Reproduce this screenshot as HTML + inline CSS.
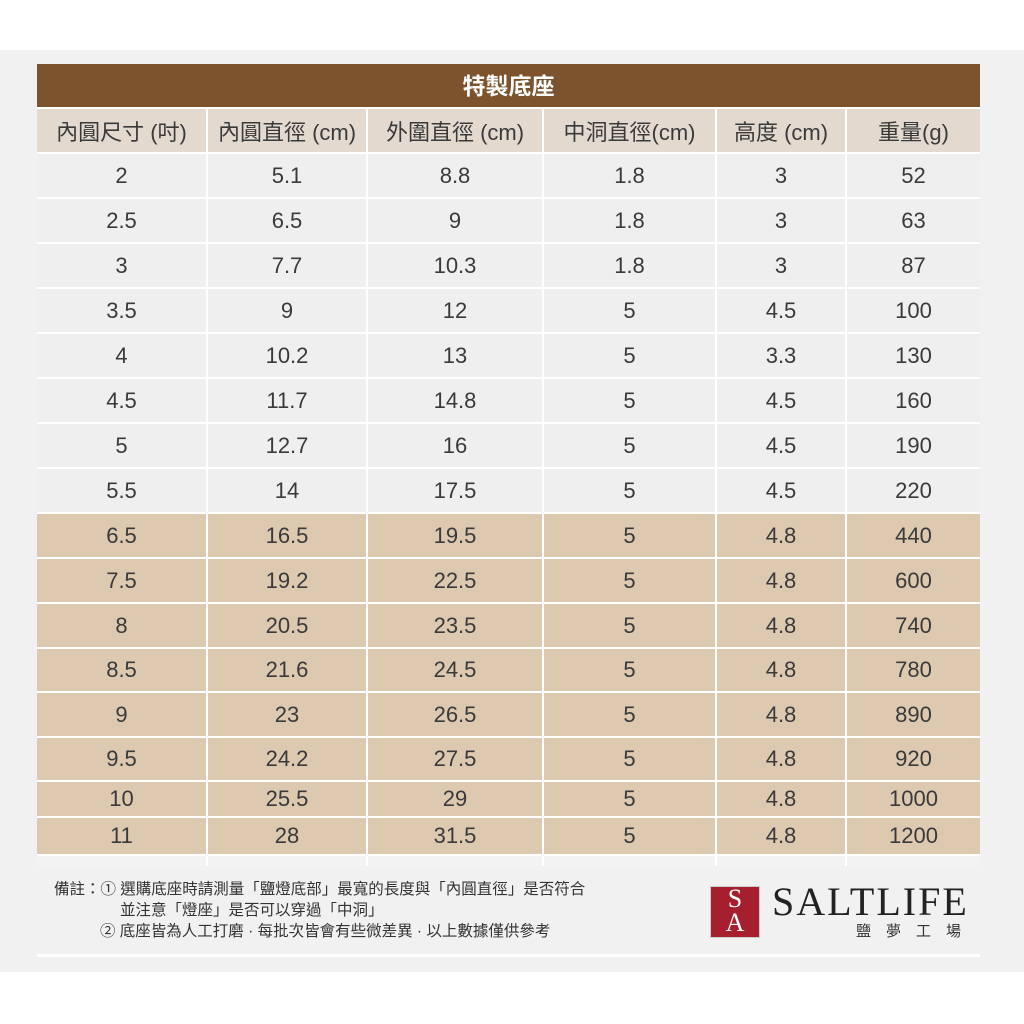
<!DOCTYPE html>
<html><head><meta charset="utf-8"><style>
body{margin:0;width:1024px;height:1024px;background:#fff;position:relative;overflow:hidden;font-family:"Liberation Sans","Noto Sans CJK TC",sans-serif;}
.bg{position:absolute;left:0;top:50px;width:1024px;height:922px;background:#f1f1f1;}
.title{position:absolute;left:37px;top:64px;width:943px;height:43px;background:#7c532d;color:#fff;font-size:23px;font-weight:bold;text-align:center;line-height:45px;}
.grid{position:absolute;left:37px;top:107px;width:943px;display:grid;grid-template-columns:169px 158px 174px 171px 128px 133px;gap:2px;background:#fff;padding-top:2px;
grid-template-rows:43px 43px 43px 43px 43px 43px 43px 43px 43px 43px 43px 43px 42px 43px 42px 34px 36px 10px;}
.grid div{display:flex;align-items:center;justify-content:center;font-size:22px;color:#3a3a3a;background:#efefef;}
.grid .h{background:#e3d9cf;color:#3a3a3a;}
.grid .b{background:#ddc8b0;}
.grid .e{background:#f3f3f3;}
.note{position:absolute;left:54px;top:879px;font-size:15.5px;color:#333;line-height:21px;white-space:nowrap;}
.line{position:absolute;left:37px;top:954px;width:943px;height:3px;background:#fff;}
.logo{position:absolute;left:710px;top:886px;width:48px;height:50px;background:#a51f2f;border:1px solid #ccc;color:#fff;font-family:"Liberation Serif",serif;font-size:26px;line-height:24px;text-align:center;overflow:hidden;}
.sl{position:absolute;left:772px;top:878px;font-family:"Liberation Serif",serif;font-size:40px;color:#222;letter-spacing:2px;}
.sub{position:absolute;left:856px;top:920px;font-size:15px;color:#333;letter-spacing:15px;}
</style></head><body>
<div class="bg"></div>
<div class="title">特製底座</div>
<div class="grid">
<div class="h">內圓尺寸 (吋)</div><div class="h">內圓直徑 (cm)</div><div class="h">外圍直徑 (cm)</div><div class="h">中洞直徑(cm)</div><div class="h">高度 (cm)</div><div class="h">重量(g)</div>
<div>2</div><div>5.1</div><div>8.8</div><div>1.8</div><div>3</div><div>52</div>
<div>2.5</div><div>6.5</div><div>9</div><div>1.8</div><div>3</div><div>63</div>
<div>3</div><div>7.7</div><div>10.3</div><div>1.8</div><div>3</div><div>87</div>
<div>3.5</div><div>9</div><div>12</div><div>5</div><div>4.5</div><div>100</div>
<div>4</div><div>10.2</div><div>13</div><div>5</div><div>3.3</div><div>130</div>
<div>4.5</div><div>11.7</div><div>14.8</div><div>5</div><div>4.5</div><div>160</div>
<div>5</div><div>12.7</div><div>16</div><div>5</div><div>4.5</div><div>190</div>
<div>5.5</div><div>14</div><div>17.5</div><div>5</div><div>4.5</div><div>220</div>
<div class="b">6.5</div><div class="b">16.5</div><div class="b">19.5</div><div class="b">5</div><div class="b">4.8</div><div class="b">440</div>
<div class="b">7.5</div><div class="b">19.2</div><div class="b">22.5</div><div class="b">5</div><div class="b">4.8</div><div class="b">600</div>
<div class="b">8</div><div class="b">20.5</div><div class="b">23.5</div><div class="b">5</div><div class="b">4.8</div><div class="b">740</div>
<div class="b">8.5</div><div class="b">21.6</div><div class="b">24.5</div><div class="b">5</div><div class="b">4.8</div><div class="b">780</div>
<div class="b">9</div><div class="b">23</div><div class="b">26.5</div><div class="b">5</div><div class="b">4.8</div><div class="b">890</div>
<div class="b">9.5</div><div class="b">24.2</div><div class="b">27.5</div><div class="b">5</div><div class="b">4.8</div><div class="b">920</div>
<div class="b">10</div><div class="b">25.5</div><div class="b">29</div><div class="b">5</div><div class="b">4.8</div><div class="b">1000</div>
<div class="b">11</div><div class="b">28</div><div class="b">31.5</div><div class="b">5</div><div class="b">4.8</div><div class="b">1200</div>
<div class="e"></div><div class="e"></div><div class="e"></div><div class="e"></div><div class="e"></div><div class="e"></div>
</div>
<div class="note">備註：① 選購底座時請測量「鹽燈底部」最寬的長度與「內圓直徑」是否符合<br><span style="padding-left:66px">並注意「燈座」是否可以穿過「中洞」</span><br><span style="padding-left:46px">② 底座皆為人工打磨 · 每批次皆會有些微差異 · 以上數據僅供參考</span></div>
<div class="logo">S<br>A</div>
<div class="sl">SALTLIFE</div>
<div class="sub">鹽夢工場</div>
<div class="line"></div>
</body></html>
